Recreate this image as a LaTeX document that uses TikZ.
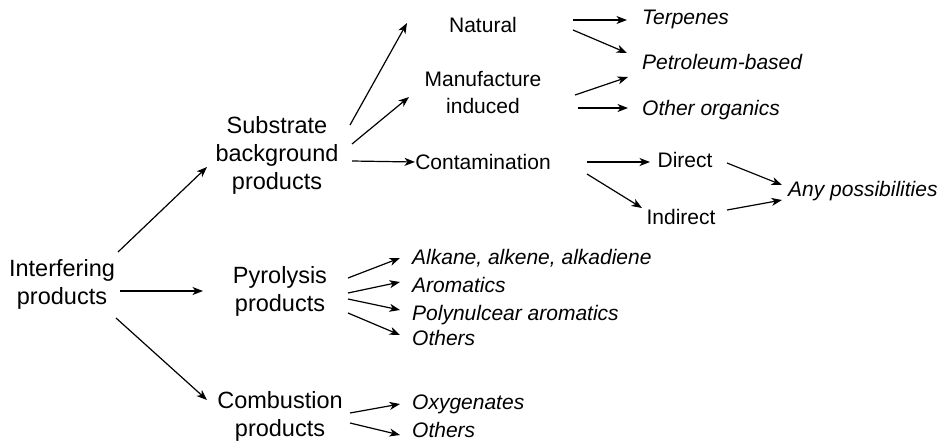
\documentclass[tikz,border=0pt]{standalone}
\usepackage{fontspec}
\setmainfont{Liberation Sans}
\usetikzlibrary{arrows.meta}
\newcommand\myconn[4]{\draw[arr] ([shift={#2}]#1) -- ([shift={#4}]#3);}
\begin{document}
\begin{tikzpicture}[x=1pt,y=-1pt,
  big/.style={inner sep=0pt,align=center,font=\fontsize{23.5}{28}\selectfont},
  mid/.style={inner sep=0pt,align=center,font=\fontsize{21}{27}\selectfont},
  one/.style={inner sep=0pt,font=\fontsize{21}{27}\selectfont,text height=15pt,text depth=0pt},
  leaf/.style={one,anchor=west,font=\fontsize{21}{27}\selectfont\itshape},
  arr/.style={line width=1.2pt,-{Stealth[length=10.5pt,width=8pt,inset=3pt]}}]
\useasboundingbox (0,0) rectangle (948,445);
\node[big] (inter) at (62,284) {Interfering\\products};
\node[big] (sub) at (277,155) {Substrate\\background\\products};
\node[big] (pyr) at (280,291) {Pyrolysis\\products};
\node[big] (comb) at (280,416) {Combustion\\products};
\node[one] (nat) at (483,25) {Natural};
\node[mid] (man) at (483,93) {Manufacture\\induced};
\node[one] (cont) at (483,162) {Contamination};
\node[one] (dir) at (685,160) {Direct};
\node[one] (ind) at (681,217) {Indirect};
\node[leaf] (terp) at (642,17) {Terpenes};
\node[leaf] (petr) at (642,62) {Petroleum-based};
\node[leaf] (otho) at (642,108) {Other organics};
\node[leaf] (any) at (788,189) {Any possibilities};
\node[leaf] (alk) at (412,257) {Alkane, alkene, alkadiene};
\node[leaf] (aro) at (412,285) {Aromatics};
\node[leaf] (poly) at (412,313) {Polynulcear aromatics};
\node[leaf] (oth1) at (412,338) {Others};
\node[leaf] (oxy) at (412,402) {Oxygenates};
\node[leaf] (oth2) at (412,430) {Others};
\myconn{inter.center}{(56,-32)}{sub.center}{(-70,12)}
\myconn{inter.center}{(58,7)}{pyr.center}{(-77,0)}
\myconn{inter.center}{(54,34)}{comb.center}{(-73,-16)}
\myconn{sub.center}{(73,-30)}{nat.center}{(-76,-2)}
\myconn{sub.center}{(75,-11)}{man.center}{(-74,4)}
\myconn{sub.center}{(75,6)}{cont.center}{(-68,0)}
\myconn{nat.center}{(90,-5)}{terp.west}{(-15,3)}
\myconn{nat.center}{(90,5)}{petr.west}{(-15,-9)}
\myconn{man.center}{(92,2)}{petr.west}{(-14,15)}
\myconn{man.center}{(95,15)}{otho.west}{(-14,0)}
\myconn{cont.center}{(104,0)}{dir.center}{(-35,2)}
\myconn{cont.center}{(104,12)}{ind.center}{(-39,-9)}
\myconn{dir.center}{(42,3)}{any.west}{(-6,-4)}
\myconn{ind.center}{(46,-7)}{any.west}{(-6,11)}
\myconn{pyr.center}{(68,-13)}{alk.west}{(-12,1)}
\myconn{pyr.center}{(68,2)}{aro.west}{(-12,-3)}
\myconn{pyr.center}{(68,8)}{poly.west}{(-12,-3)}
\myconn{pyr.center}{(68,22)}{oth1.west}{(-12,-3)}
\myconn{comb.center}{(70,-3)}{oxy.west}{(-12,2)}
\myconn{comb.center}{(70,7)}{oth2.west}{(-12,5)}
\end{tikzpicture}
\end{document}
